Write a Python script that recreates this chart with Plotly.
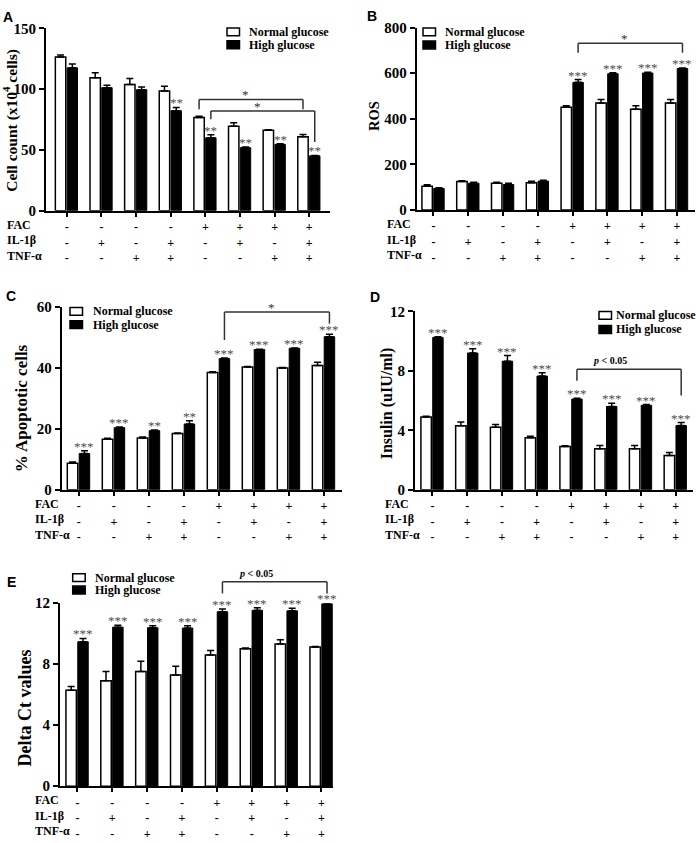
import plotly.graph_objects as go

W, H = 696, 843

# ---------------- data ----------------
fac = ["-", "-", "-", "-", "+", "+", "+", "+"]
il1b = ["-", "+", "-", "+", "-", "+", "-", "+"]
tnf = ["-", "-", "+", "+", "-", "-", "+", "+"]
row_labels = ["FAC", "IL-1β", "TNF-α"]
series_names = ["Normal glucose", "High glucose"]

cell_normal = [126.5, 109.4, 103.8, 98.5, 76.6, 69.4, 66.2, 60.8]
cell_normal_err = [1.5, 4.0, 5.0, 3.8, 1.2, 3.0, 0.5, 2.0]
cell_high = [117.5, 101.2, 99.5, 82.3, 60.0, 51.9, 54.6, 45.2]
cell_high_err = [3.2, 2.0, 2.3, 2.7, 2.5, 0.5, 0.5, 0.3]
cell_stars = ["", "", "", "**", "**", "**", "**", "**"]

ros_normal = [105, 125, 118, 120, 451, 470, 442, 470]
ros_normal_err = [6, 4, 4, 6, 7, 15, 15, 15]
ros_high = [95, 118, 112, 127, 560, 598, 601, 621]
ros_high_err = [3, 4, 6, 4, 12, 4, 3, 2]
ros_stars = ["", "", "", "", "***", "***", "***", "***"]

apop_normal = [8.7, 16.6, 17.0, 18.5, 38.5, 40.3, 40.0, 40.8]
apop_normal_err = [0.4, 0.3, 0.3, 0.1, 0.3, 0.2, 0.2, 1.1]
apop_high = [11.9, 20.4, 19.4, 21.6, 43.1, 46.1, 46.5, 50.3]
apop_high_err = [0.9, 0.2, 0.2, 1.1, 0.2, 0.1, 0.1, 0.8]
apop_stars = ["***", "***", "**", "**", "***", "***", "***", "***"]

ins_normal = [4.9, 4.3, 4.2, 3.5, 2.9, 2.75, 2.75, 2.3]
ins_normal_err = [0.05, 0.25, 0.18, 0.1, 0.05, 0.22, 0.22, 0.2]
ins_high = [10.25, 9.2, 8.65, 7.65, 6.1, 5.6, 5.68, 4.32]
ins_high_err = [0.05, 0.28, 0.38, 0.22, 0.05, 0.22, 0.05, 0.2]
ins_stars = ["***"] * 8

dct_normal = [6.3, 6.92, 7.52, 7.3, 8.61, 9.02, 9.32, 9.13]
dct_normal_err = [0.24, 0.6, 0.67, 0.56, 0.28, 0.05, 0.28, 0.03]
dct_high = [9.47, 10.43, 10.39, 10.37, 11.44, 11.53, 11.5, 11.96]
dct_high_err = [0.22, 0.12, 0.13, 0.15, 0.18, 0.17, 0.17, 0.03]
dct_stars = ["***"] * 8

# brackets: (left group, left series, right group, right series, top, left end, right end, label)
cell_brackets = [(4, 0, 7, 0, 91.5, 83.4, 83.4, "*"), (4, 1, 7, 1, 82.0, 75.3, 56.5, "*")]
ros_brackets = [(4, 1, 7, 1, 731, 690, 690, "*")]
apop_brackets = [(4, 1, 7, 1, 58.4, 49.2, 54.6, "*")]
ins_brackets = [(4, 1, 7, 1, 8.1, 7.33, 6.34, "<i>p</i> &lt; 0.05")]
dct_brackets = [(4, 1, 7, 1, 13.4, 12.64, 12.64, "<i>p</i> &lt; 0.05")]

# ---------------- styles / layout ----------------
SERIF = "Liberation Serif"
SANS = "Liberation Sans"
BW = 0.3
OFFS = [-0.33, 0.01]
STAR_COL = "#4d4d4d"
BR_COL = "#333333"

panels = [
    dict(letter="A", title="Cell count (x10<sup>4</sup> cells)", data=(cell_normal, cell_normal_err, cell_high, cell_high_err),
         stars=cell_stars, brackets=cell_brackets, px_x=(46, 330), px_y=(20.7, 206.7), xr=(-0.6, 7.6), ymax=150, dtick=50,
         letter_pos=(8, 9), title_pos=(11, 115), title_size=15.5, leg=(227, 24.3, 37.5, 247), row_x=5),
    dict(letter="B", title="ROS", data=(ros_normal, ros_normal_err, ros_high, ros_high_err),
         stars=ros_stars, brackets=ros_brackets, px_x=(416.7, 695), px_y=(20, 206), xr=(-0.48, 7.52), ymax=800, dtick=200,
         letter_pos=(372, 8), title_pos=(374, 110), title_size=14.5, leg=(423, 24.3, 37.7, 443), row_x=385),
    dict(letter="C", title="% Apoptotic cells", data=(apop_normal, apop_normal_err, apop_high, apop_high_err),
         stars=apop_stars, brackets=apop_brackets, px_x=(61.7, 341.7), px_y=(305, 491), xr=(-0.49, 7.51), ymax=60, dtick=20,
         letter_pos=(11, 294), title_pos=(21, 408), title_size=17, leg=(70, 309.3, 322.7, 90.7), row_x=33),
    dict(letter="D", title="Insulin (uIU/ml)", data=(ins_normal, ins_normal_err, ins_high, ins_high_err),
         stars=ins_stars, brackets=ins_brackets, px_x=(415, 693), px_y=(309.3, 491), xr=(-0.5, 7.5), ymax=12, dtick=4,
         letter_pos=(375, 295), title_pos=(387, 403), title_size=16, leg=(599, 313.3, 327.7, 614), row_x=383),
    dict(letter="E", title="Delta Ct values", data=(dct_normal, dct_normal_err, dct_high, dct_high_err),
         stars=dct_stars, brackets=dct_brackets, px_x=(60, 333.3), px_y=(606.7, 793.3), xr=(-0.5, 7.34), ymax=12, dtick=4,
         letter_pos=(11, 585), title_pos=(25, 714), title_size=18, leg=(72.7, 580.7, 593.3, 93.3), row_x=33),
]

ticktext = [f"{a}<br>{b}<br>{c}" for a, b, c in zip(fac, il1b, tnf)]
positions = list(range(len(fac)))


def fx(p):
    return p / W


def fy(p):
    return 1 - p / H


fig = go.Figure()
layout = dict(width=W, height=H, margin=dict(l=0, r=0, t=0, b=0), paper_bgcolor="white",
              plot_bgcolor="white", barmode="overlay", showlegend=False)
shapes = []
annotations = []

for k, pn in enumerate(panels, start=1):
    sx = "" if k == 1 else str(k)
    xref, yref = "x" + sx, "y" + sx
    normal, nerr, high, herr = pn["data"]
    xr0, xr1 = pn["xr"]
    ymax = pn["ymax"]

    def dx(v):
        return (v - xr0) / (xr1 - xr0)

    def dy(v):
        return v / ymax

    for s, (vals, errs) in enumerate([(normal, nerr), (high, herr)]):
        fig.add_trace(go.Bar(
            x=positions, y=vals, width=BW, offset=OFFS[s], name=series_names[s],
            marker=dict(color="white" if s == 0 else "black", line=dict(color="black", width=1.5 if s == 0 else 1)),
            error_y=dict(type="data", symmetric=False, array=errs, arrayminus=[0] * len(errs),
                         color="black", thickness=1.5, width=3.5),
            xaxis=xref, yaxis=yref))

    layout["xaxis" + sx] = dict(domain=[fx(pn["px_x"][0]), fx(pn["px_x"][1])], range=[xr0, xr1], anchor=yref,
                                showline=True, linewidth=2, linecolor="black", ticks="outside", ticklen=4,
                                tickwidth=1.5, tickcolor="black", tickvals=positions, ticktext=ticktext,
                                tickfont=dict(family=SERIF, size=12, color="black", weight="bold"),
                                showgrid=False, zeroline=False, fixedrange=True)
    layout["yaxis" + sx] = dict(domain=[fy(pn["px_y"][1]), fy(pn["px_y"][0])], range=[0, ymax], anchor=xref,
                                showline=True, linewidth=2, linecolor="black", ticks="outside", ticklen=5,
                                tickwidth=1.5, tickcolor="black", tick0=0, dtick=pn["dtick"],
                                tickfont=dict(family=SERIF, size=15, color="black", weight="bold"),
                                showgrid=False, zeroline=False, fixedrange=True)

    # significance stars above high-glucose bars
    for i, st in enumerate(pn["stars"]):
        if st:
            annotations.append(dict(x=i + OFFS[1] + BW / 2, y=dy(high[i] + herr[i]), xref=xref, yref=yref + " domain",
                                    text=st, showarrow=False, yanchor="bottom", yshift=-5,
                                    font=dict(family=SERIF, size=13, color=STAR_COL)))

    # brackets
    for (gl, sl, gr, sr, top, lend, rend, lab) in pn["brackets"]:
        xl = dx(gl + OFFS[sl] + BW / 2)
        xrr = dx(gr + OFFS[sr] + BW / 2)
        ln = dict(color=BR_COL, width=1.5)
        for (a, b, c, d) in [(xl, dy(lend), xl, dy(top)), (xl, dy(top), xrr, dy(top)), (xrr, dy(top), xrr, dy(rend))]:
            shapes.append(dict(type="line", xref=xref + " domain", yref=yref + " domain", x0=a, y0=b, x1=c, y1=d, line=ln))
        is_star = lab == "*"
        annotations.append(dict(x=(xl + xrr) / 2, y=dy(top), xref=xref + " domain", yref=yref + " domain",
                                text=lab, showarrow=False, yanchor="bottom", yshift=-5 if is_star else 1,
                                font=dict(family=SERIF, size=13 if is_star else 10, color=BR_COL if is_star else "black",
                                          weight="normal" if is_star else "bold")))

    # legend
    bx, y1, y2, tx = pn["leg"]
    for s, yc in enumerate([y1, y2]):
        shapes.append(dict(type="rect", xref="paper", yref="paper", x0=fx(bx), x1=fx(bx + 12.5), y0=fy(yc + 4),
                           y1=fy(yc - 4), fillcolor="white" if s == 0 else "black", line=dict(color="black", width=1.5)))
        annotations.append(dict(x=fx(tx), y=fy(yc), xref="paper", yref="paper", xanchor="left", yanchor="middle",
                                text=series_names[s], showarrow=False,
                                font=dict(family=SERIF, size=12, color="black", weight="bold")))

    # panel letter
    annotations.append(dict(x=fx(pn["letter_pos"][0]), y=fy(pn["letter_pos"][1]), xref="paper", yref="paper",
                            text=pn["letter"], showarrow=False, xanchor="center", yanchor="middle",
                            font=dict(family=SANS, size=14, color="black", weight="bold")))
    # y title
    annotations.append(dict(x=fx(pn["title_pos"][0]), y=fy(pn["title_pos"][1]), xref="paper", yref="paper",
                            text=pn["title"], showarrow=False, textangle=-90, xanchor="center", yanchor="middle",
                            font=dict(family=SERIF, size=pn["title_size"], color="black", weight="bold")))
    # row labels
    base = pn["px_y"][1]
    for j, lab in enumerate(row_labels):
        annotations.append(dict(x=fx(pn["row_x"]), y=fy(base + 14.5 + 15.6 * j), xref="paper", yref="paper",
                                text=lab, showarrow=False, xanchor="left", yanchor="middle",
                                font=dict(family=SERIF, size=12, color="black", weight="bold")))

layout["shapes"] = shapes
layout["annotations"] = annotations
fig.update_layout(**layout)
fig.write_html("out.html", config={"displayModeBar": False},
               post_script="document.body.style.margin='0';document.body.style.overflow='hidden';")
